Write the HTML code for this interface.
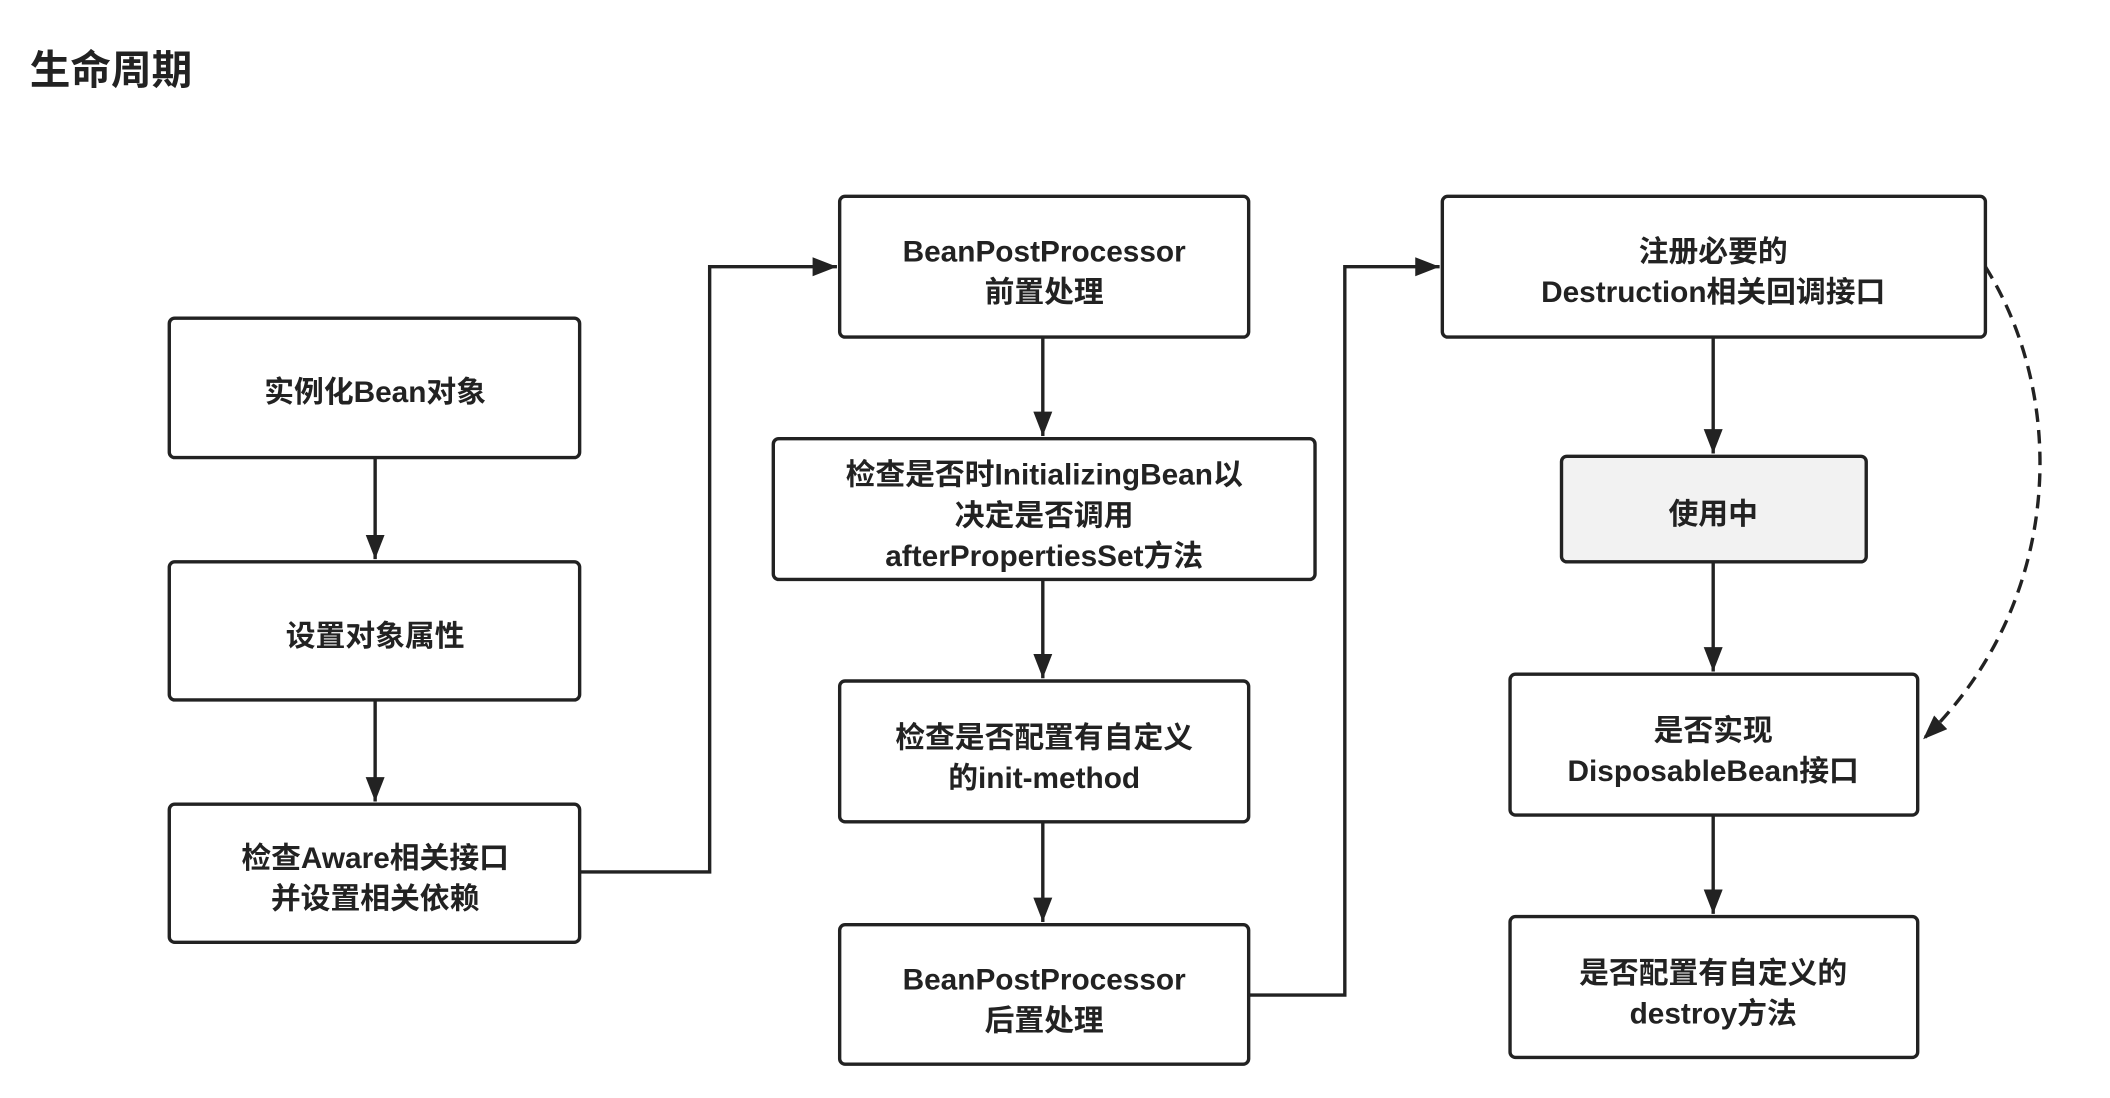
<!DOCTYPE html>
<html><head><meta charset="utf-8"><style>
html,body{margin:0;padding:0;background:#fff;width:2110px;height:1098px;overflow:hidden}
svg{display:block}
text{font-family:"Liberation Sans","Noto Sans CJK SC",sans-serif;font-weight:bold;fill:#222}
</style></head><body>
<svg width="2110" height="1098" viewBox="0 0 1558 811" preserveAspectRatio="none" xmlns="http://www.w3.org/2000/svg">
<defs><marker id="a" markerWidth="10" markerHeight="10" refX="9" refY="5" orient="auto" markerUnits="userSpaceOnUse"><path d="M0,0 L10,5 L0,10 z" fill="#222"/></marker>
<marker id="b" markerWidth="20" markerHeight="20" refX="18" refY="7" orient="auto" markerUnits="userSpaceOnUse"><path d="M0,0 L18,7 L0,14 z" fill="#222"/></marker></defs>
<text x="22" y="62" font-size="30" style="font-weight:bold">生命周期</text>
<g fill="#fff" stroke="#222" stroke-width="2.5">
<rect x="125" y="235" width="303" height="103" rx="4"/>
<rect x="125" y="415" width="303" height="102" rx="4"/>
<rect x="125" y="594" width="303" height="102" rx="4"/>
<rect x="620" y="145" width="302" height="104" rx="4"/>
<rect x="571" y="324" width="400" height="104" rx="4"/>
<rect x="620" y="503" width="302" height="104" rx="4"/>
<rect x="620" y="683" width="302" height="103" rx="4"/>
<rect x="1065" y="145" width="401" height="104" rx="4"/>
<rect x="1153" y="337" width="225" height="78" rx="4" fill="#f2f2f2"/>
<rect x="1115" y="498" width="301" height="104" rx="4"/>
<rect x="1115" y="677" width="301" height="104" rx="4"/>
</g>
<g stroke="#222" stroke-width="2.5" fill="none">
<line x1="277" y1="338" x2="277" y2="413" marker-end="url(#b)"/>
<line x1="277" y1="517" x2="277" y2="592" marker-end="url(#b)"/>
<polyline points="428,644 524,644 524,197 618,197" marker-end="url(#b)"/>
<line x1="770" y1="249" x2="770" y2="322" marker-end="url(#b)"/>
<line x1="770" y1="428" x2="770" y2="501" marker-end="url(#b)"/>
<line x1="770" y1="607" x2="770" y2="681" marker-end="url(#b)"/>
<polyline points="922,735 993,735 993,197 1063,197" marker-end="url(#b)"/>
<line x1="1265" y1="249" x2="1265" y2="335" marker-end="url(#b)"/>
<line x1="1265" y1="415" x2="1265" y2="496" marker-end="url(#b)"/>
<line x1="1265" y1="602" x2="1265" y2="675" marker-end="url(#b)"/>
<path d="M1466,197 C1530,300 1520,450 1420,546" stroke-dasharray="10,6" marker-end="url(#b)"/>
</g>
<g font-size="22" text-anchor="middle">
<text x="277" y="297">实例化Bean对象</text>
<text x="277" y="477">设置对象属性</text>
<text x="277" y="641">检查Aware相关接口</text>
<text x="277" y="671">并设置相关依赖</text>
<text x="771" y="193">BeanPostProcessor</text>
<text x="771" y="223">前置处理</text>
<text x="771" y="358">检查是否时InitializingBean以</text>
<text x="771" y="388">决定是否调用</text>
<text x="771" y="418">afterPropertiesSet方法</text>
<text x="771" y="552">检查是否配置有自定义</text>
<text x="771" y="582">的init-method</text>
<text x="771" y="731">BeanPostProcessor</text>
<text x="771" y="761">后置处理</text>
<text x="1265" y="193">注册必要的</text>
<text x="1265" y="223">Destruction相关回调接口</text>
<text x="1265" y="387">使用中</text>
<text x="1265" y="547">是否实现</text>
<text x="1265" y="577">DisposableBean接口</text>
<text x="1265" y="726">是否配置有自定义的</text>
<text x="1265" y="756">destroy方法</text>
</g>
</svg>
</body></html>
